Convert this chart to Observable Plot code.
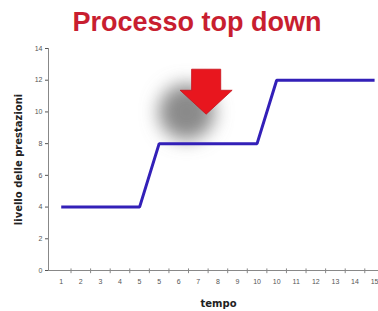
<!DOCTYPE html>
<html><head><meta charset="utf-8">
<script src="https://cdn.jsdelivr.net/npm/d3@7"></script>
<script src="https://cdn.jsdelivr.net/npm/@observablehq/plot@0.6"></script>
<style>
body{margin:0;background:#fff;font-family:"Liberation Sans",Arial,sans-serif;width:378px;overflow:hidden;}
#title{height:39px;padding-top:3px;line-height:39px;padding-left:16px;text-align:center;font-size:27px;font-weight:bold;color:#c81e30;box-sizing:content-box;white-space:nowrap;}
</style></head><body>
<div id="title">Processo top down</div>
<div id="chart"></div>
<script>
const tempo = [1,2,3,4,5,6,7,8,9,10,11,12,13,14,15,16,17];
const tickLabels = ["1","2","3","4","5","5","6","7","8","9","10","10","11","12","13","14","15"];
const livello = [4,4,4,4,4,8,8,8,8,8,8,12,12,12,12,12,12];
const yTicks = [0,2,4,6,8,10,12,14];
const arrowAt = [{x:8.4, y:11.3}];
const shadowAt = [{x:7.4, y:10.0}];

const data = tempo.map((t,i)=>({t, v: livello[i]}));
const halfTicks = tempo.map(t=>t+0.5);
const xDomain = [0.35, 17.2];

const arrowSymbol = {
  draw(ctx, size){
    const r = Math.sqrt(size/Math.PI);
    ctx.moveTo(-0.56*r, -0.85*r);
    ctx.lineTo(0.56*r, -0.85*r);
    ctx.lineTo(0.56*r, -0.04*r);
    ctx.lineTo(1.0*r, -0.04*r);
    ctx.lineTo(0, 0.88*r);
    ctx.lineTo(-1.0*r, -0.04*r);
    ctx.lineTo(-0.56*r, -0.04*r);
    ctx.closePath();
  }
};

const chart = Plot.plot({
  width:378, height:269,
  marginLeft:48, marginRight:0, marginTop:6, marginBottom:41,
  style:{fontFamily:"Liberation Sans, Arial, sans-serif", fontSize:"7px", color:"#555", background:"#fff", overflow:"visible"},
  x:{domain:xDomain, ticks:tempo, tickFormat:d=>tickLabels[d-1], tickSize:0, tickPadding:9, label:null},
  y:{domain:[0,14], ticks:yTicks, tickSize:3, tickPadding:3, label:null},
  marks:[
    Plot.dot(shadowAt, {x:"x", y:"y", r:28, fill:"#8a8a8a", stroke:"none", ariaLabel:"shadow"}),
    Plot.ruleX([xDomain[0]], {stroke:"#888", strokeWidth:1}),
    Plot.ruleY([0], {stroke:"#888", strokeWidth:1}),
    Plot.ruleX(halfTicks, {x:d=>d, y1:-0.2, y2:0.1, stroke:"#888"}),
    Plot.line(data, {x:"t", y:"v", stroke:"#3320b8", strokeWidth:3, strokeLinejoin:"miter", strokeLinecap:"butt"}),
    Plot.dot(arrowAt, {x:"x", y:"y", r:26, symbol:arrowSymbol, fill:"#e8161e", stroke:"#c8101a", strokeWidth:0.8}),
    Plot.text(["tempo"], {text:d=>d, frameAnchor:"bottom", textAnchor:"middle", lineAnchor:"middle", dx:5, dy:33, fontWeight:"bold", fontSize:10, fontFamily:"DejaVu Sans", fill:"#222"}),
    Plot.text(["livello delle prestazioni"], {text:d=>d, frameAnchor:"left", textAnchor:"middle", lineAnchor:"middle", rotate:-90, dx:-30, fontWeight:"bold", fontSize:10, fontFamily:"DejaVu Sans", fill:"#222"})
  ]
});
document.getElementById("chart").appendChild(chart);

const svg = d3.select(chart);
const defs = svg.insert("defs", ":first-child");
const f = defs.append("filter").attr("id","blur").attr("x","-100%").attr("y","-100%").attr("width","300%").attr("height","300%");
f.append("feGaussianBlur").attr("stdDeviation", 9);
let sg = svg.select('g[aria-label="shadow"]');
if (sg.empty()) sg = svg.select('g[aria-label="dot"]');
sg.attr("filter","url(#blur)");
</script>
</body></html>
